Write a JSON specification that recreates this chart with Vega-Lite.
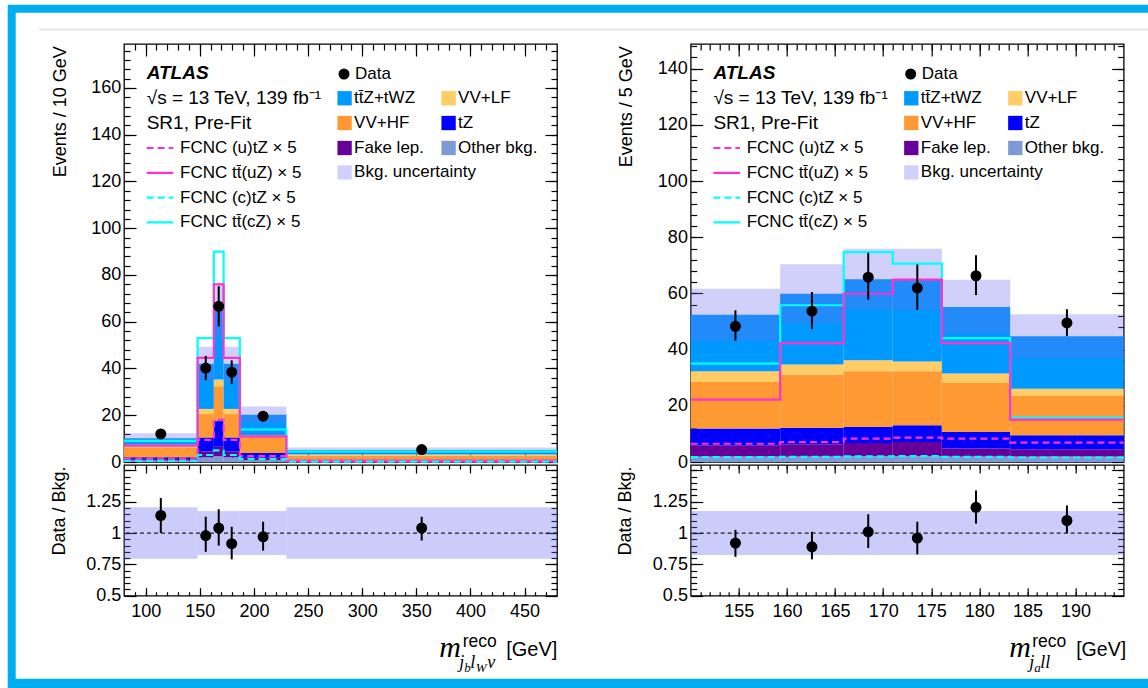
{
 "$schema": "https://vega.github.io/schema/vega-lite/v6.json",
 "background": "#ffffff",
 "padding": {"left": 7, "top": 4, "right": 0, "bottom": 0},
 "bounds": "flush",
 "spacing": 0,
 "datasets": {
  "bkgL": [
   {"lo":80,"hi":148,"p":"Other bkg.","v":0.6},{"lo":80,"hi":148,"p":"Fake lep.","v":0.6},{"lo":80,"hi":148,"p":"tZ","v":0.8},{"lo":80,"hi":148,"p":"VV+HF","v":4.3},{"lo":80,"hi":148,"p":"VV+LF","v":1.1},{"lo":80,"hi":148,"p":"tt\u0304Z+tWZ","v":2.8},
   {"lo":148,"hi":163,"p":"Other bkg.","v":2.0},{"lo":148,"hi":163,"p":"Fake lep.","v":2.5},{"lo":148,"hi":163,"p":"tZ","v":6.0},{"lo":148,"hi":163,"p":"VV+HF","v":10.0},{"lo":148,"hi":163,"p":"VV+LF","v":2.2},{"lo":148,"hi":163,"p":"tt\u0304Z+tWZ","v":19.3},
   {"lo":163,"hi":172,"p":"Other bkg.","v":2.5},{"lo":163,"hi":172,"p":"Fake lep.","v":4.0},{"lo":163,"hi":172,"p":"tZ","v":11.0},{"lo":163,"hi":172,"p":"VV+HF","v":14.9},{"lo":163,"hi":172,"p":"VV+LF","v":2.9},{"lo":163,"hi":172,"p":"tt\u0304Z+tWZ","v":29.2},
   {"lo":172,"hi":187,"p":"Other bkg.","v":2.0},{"lo":172,"hi":187,"p":"Fake lep.","v":2.5},{"lo":172,"hi":187,"p":"tZ","v":6.0},{"lo":172,"hi":187,"p":"VV+HF","v":10.0},{"lo":172,"hi":187,"p":"VV+LF","v":2.2},{"lo":172,"hi":187,"p":"tt\u0304Z+tWZ","v":19.3},
   {"lo":187,"hi":230,"p":"Other bkg.","v":0.8},{"lo":187,"hi":230,"p":"Fake lep.","v":1.0},{"lo":187,"hi":230,"p":"tZ","v":2.1},{"lo":187,"hi":230,"p":"VV+HF","v":6.9},{"lo":187,"hi":230,"p":"VV+LF","v":0.8},{"lo":187,"hi":230,"p":"tt\u0304Z+tWZ","v":8.6},
   {"lo":230,"hi":480,"p":"Other bkg.","v":0.3},{"lo":230,"hi":480,"p":"Fake lep.","v":0.2},{"lo":230,"hi":480,"p":"tZ","v":0.5},{"lo":230,"hi":480,"p":"VV+HF","v":1.8},{"lo":230,"hi":480,"p":"VV+LF","v":0.4},{"lo":230,"hi":480,"p":"tt\u0304Z+tWZ","v":1.9}
  ],
  "bkgR": [
   {"lo":150,"hi":159.3,"p":"Other bkg.","v":2.0},{"lo":150,"hi":159.3,"p":"Fake lep.","v":4.0},{"lo":150,"hi":159.3,"p":"tZ","v":5.9},{"lo":150,"hi":159.3,"p":"VV+HF","v":16.6},{"lo":150,"hi":159.3,"p":"VV+LF","v":3.8},{"lo":150,"hi":159.3,"p":"tt\u0304Z+tWZ","v":20.1},
   {"lo":159.3,"hi":165.9,"p":"Other bkg.","v":2.0},{"lo":159.3,"hi":165.9,"p":"Fake lep.","v":4.3},{"lo":159.3,"hi":165.9,"p":"tZ","v":5.9},{"lo":159.3,"hi":165.9,"p":"VV+HF","v":18.9},{"lo":159.3,"hi":165.9,"p":"VV+LF","v":3.6},{"lo":159.3,"hi":165.9,"p":"tt\u0304Z+tWZ","v":25.2},
   {"lo":165.9,"hi":171,"p":"Other bkg.","v":2.1},{"lo":165.9,"hi":171,"p":"Fake lep.","v":4.7},{"lo":165.9,"hi":171,"p":"tZ","v":5.7},{"lo":165.9,"hi":171,"p":"VV+HF","v":19.8},{"lo":165.9,"hi":171,"p":"VV+LF","v":3.9},{"lo":165.9,"hi":171,"p":"tt\u0304Z+tWZ","v":28.9},
   {"lo":171,"hi":176.1,"p":"Other bkg.","v":2.1},{"lo":171,"hi":176.1,"p":"Fake lep.","v":5.0},{"lo":171,"hi":176.1,"p":"tZ","v":6.0},{"lo":171,"hi":176.1,"p":"VV+HF","v":19.2},{"lo":171,"hi":176.1,"p":"VV+LF","v":3.5},{"lo":171,"hi":176.1,"p":"tt\u0304Z+tWZ","v":29.1},
   {"lo":176.1,"hi":183.2,"p":"Other bkg.","v":2.0},{"lo":176.1,"hi":183.2,"p":"Fake lep.","v":2.8},{"lo":176.1,"hi":183.2,"p":"tZ","v":5.9},{"lo":176.1,"hi":183.2,"p":"VV+HF","v":17.4},{"lo":176.1,"hi":183.2,"p":"VV+LF","v":3.4},{"lo":176.1,"hi":183.2,"p":"tt\u0304Z+tWZ","v":23.7},
   {"lo":183.2,"hi":195,"p":"Other bkg.","v":2.0},{"lo":183.2,"hi":195,"p":"Fake lep.","v":2.5},{"lo":183.2,"hi":195,"p":"tZ","v":5.0},{"lo":183.2,"hi":195,"p":"VV+HF","v":14.0},{"lo":183.2,"hi":195,"p":"VV+LF","v":2.6},{"lo":183.2,"hi":195,"p":"tt\u0304Z+tWZ","v":18.7}
  ],
  "uncL": [
   {"lo":80,"hi":148,"dn":8.1,"up":12.3},{"lo":148,"hi":163,"dn":34.7,"up":49.3},{"lo":163,"hi":172,"dn":53.5,"up":75.5},{"lo":172,"hi":187,"dn":34.7,"up":49.3},{"lo":187,"hi":230,"dn":16.7,"up":23.7},{"lo":230,"hi":480,"dn":4.05,"up":6.15}
  ],
  "uncR": [
   {"lo":150,"hi":159.3,"dn":43.1,"up":61.7},{"lo":159.3,"hi":165.9,"dn":49.4,"up":70.4},{"lo":165.9,"hi":171,"dn":54.3,"up":75.9},{"lo":171,"hi":176.1,"dn":53.9,"up":75.9},{"lo":176.1,"hi":183.2,"dn":45.5,"up":64.9},{"lo":183.2,"hi":195,"dn":37.0,"up":52.6}
  ],
  "datL": [
   {"x":114,"y":12.0,"elo":10.7,"ehi":13.3},{"x":155.5,"y":40.2,"elo":35.0,"ehi":45.4},{"x":167.5,"y":66.6,"elo":58.0,"ehi":75.2},{"x":179.5,"y":38.4,"elo":33.3,"ehi":43.5},{"x":208.5,"y":19.6,"elo":17.5,"ehi":21.7},{"x":355,"y":5.3,"elo":4.85,"ehi":5.75}
  ],
  "datR": [
   {"x":154.65,"y":48.3,"elo":43.2,"ehi":54.0},{"x":162.6,"y":53.7,"elo":47.3,"ehi":60.5},{"x":168.45,"y":65.8,"elo":57.8,"ehi":74.5},{"x":173.55,"y":61.9,"elo":54.1,"ehi":70.3},{"x":179.65,"y":66.3,"elo":59.4,"ehi":73.6},{"x":189.1,"y":49.5,"elo":44.8,"ehi":54.4}
  ],
  "sigL": [
   {"s":"FCNC tt\u0304(cZ) \u00d7 5","x":80,"v":9.0},{"s":"FCNC tt\u0304(cZ) \u00d7 5","x":148,"v":53},{"s":"FCNC tt\u0304(cZ) \u00d7 5","x":163,"v":90},{"s":"FCNC tt\u0304(cZ) \u00d7 5","x":172,"v":53},{"s":"FCNC tt\u0304(cZ) \u00d7 5","x":187,"v":13.9},{"s":"FCNC tt\u0304(cZ) \u00d7 5","x":230,"v":4.5},{"s":"FCNC tt\u0304(cZ) \u00d7 5","x":480,"v":4.5},
   {"s":"FCNC tt\u0304(uZ) \u00d7 5","x":80,"v":7.0},{"s":"FCNC tt\u0304(uZ) \u00d7 5","x":148,"v":44.5},{"s":"FCNC tt\u0304(uZ) \u00d7 5","x":163,"v":76},{"s":"FCNC tt\u0304(uZ) \u00d7 5","x":172,"v":44.5},{"s":"FCNC tt\u0304(uZ) \u00d7 5","x":187,"v":11.0},{"s":"FCNC tt\u0304(uZ) \u00d7 5","x":230,"v":0.6},{"s":"FCNC tt\u0304(uZ) \u00d7 5","x":480,"v":0.6},
   {"s":"FCNC (u)tZ \u00d7 5","x":80,"v":1.5},{"s":"FCNC (u)tZ \u00d7 5","x":148,"v":9.5},{"s":"FCNC (u)tZ \u00d7 5","x":163,"v":18},{"s":"FCNC (u)tZ \u00d7 5","x":172,"v":9.5},{"s":"FCNC (u)tZ \u00d7 5","x":187,"v":2.5},{"s":"FCNC (u)tZ \u00d7 5","x":230,"v":0.3},{"s":"FCNC (u)tZ \u00d7 5","x":480,"v":0.3},
   {"s":"FCNC (c)tZ \u00d7 5","x":80,"v":0.5},{"s":"FCNC (c)tZ \u00d7 5","x":148,"v":3},{"s":"FCNC (c)tZ \u00d7 5","x":163,"v":5},{"s":"FCNC (c)tZ \u00d7 5","x":172,"v":3},{"s":"FCNC (c)tZ \u00d7 5","x":187,"v":1.2},{"s":"FCNC (c)tZ \u00d7 5","x":230,"v":0.15},{"s":"FCNC (c)tZ \u00d7 5","x":480,"v":0.15}
  ],
  "sigR": [
   {"s":"FCNC tt\u0304(cZ) \u00d7 5","x":150,"v":35.0},{"s":"FCNC tt\u0304(cZ) \u00d7 5","x":159.3,"v":55.8},{"s":"FCNC tt\u0304(cZ) \u00d7 5","x":165.9,"v":74.7},{"s":"FCNC tt\u0304(cZ) \u00d7 5","x":171,"v":70.6},{"s":"FCNC tt\u0304(cZ) \u00d7 5","x":176.1,"v":44.1},{"s":"FCNC tt\u0304(cZ) \u00d7 5","x":183.2,"v":15.8},{"s":"FCNC tt\u0304(cZ) \u00d7 5","x":195,"v":15.8},
   {"s":"FCNC tt\u0304(uZ) \u00d7 5","x":150,"v":22.2},{"s":"FCNC tt\u0304(uZ) \u00d7 5","x":159.3,"v":42.3},{"s":"FCNC tt\u0304(uZ) \u00d7 5","x":165.9,"v":59.9},{"s":"FCNC tt\u0304(uZ) \u00d7 5","x":171,"v":64.9},{"s":"FCNC tt\u0304(uZ) \u00d7 5","x":176.1,"v":42.3},{"s":"FCNC tt\u0304(uZ) \u00d7 5","x":183.2,"v":15.1},{"s":"FCNC tt\u0304(uZ) \u00d7 5","x":195,"v":15.1},
   {"s":"FCNC (u)tZ \u00d7 5","x":150,"v":6.5},{"s":"FCNC (u)tZ \u00d7 5","x":159.3,"v":7.1},{"s":"FCNC (u)tZ \u00d7 5","x":165.9,"v":8.3},{"s":"FCNC (u)tZ \u00d7 5","x":171,"v":8.7},{"s":"FCNC (u)tZ \u00d7 5","x":176.1,"v":8.3},{"s":"FCNC (u)tZ \u00d7 5","x":183.2,"v":6.9},{"s":"FCNC (u)tZ \u00d7 5","x":195,"v":6.9},
   {"s":"FCNC (c)tZ \u00d7 5","x":150,"v":1.7},{"s":"FCNC (c)tZ \u00d7 5","x":159.3,"v":1.8},{"s":"FCNC (c)tZ \u00d7 5","x":165.9,"v":2.0},{"s":"FCNC (c)tZ \u00d7 5","x":171,"v":2.1},{"s":"FCNC (c)tZ \u00d7 5","x":176.1,"v":1.8},{"s":"FCNC (c)tZ \u00d7 5","x":183.2,"v":1.6},{"s":"FCNC (c)tZ \u00d7 5","x":195,"v":1.6}
  ],
  "ratL": [
   {"x":114,"r":1.14,"elo":1.0,"ehi":1.28},{"x":155.5,"r":0.98,"elo":0.85,"ehi":1.13},{"x":167.5,"r":1.04,"elo":0.90,"ehi":1.19},{"x":179.5,"r":0.915,"elo":0.79,"ehi":1.05},{"x":208.5,"r":0.97,"elo":0.86,"ehi":1.09},{"x":355,"r":1.04,"elo":0.94,"ehi":1.13}
  ],
  "ratR": [
   {"x":154.65,"r":0.92,"elo":0.81,"ehi":1.025},{"x":162.6,"r":0.89,"elo":0.79,"ehi":1.01},{"x":168.45,"r":1.01,"elo":0.88,"ehi":1.15},{"x":173.55,"r":0.96,"elo":0.83,"ehi":1.09},{"x":179.65,"r":1.205,"elo":1.075,"ehi":1.34},{"x":189.1,"r":1.10,"elo":1.0,"ehi":1.22}
  ],
  "bandL": [
   {"lo":80,"hi":148,"dn":0.795,"up":1.205},{"lo":148,"hi":163,"dn":0.825,"up":1.175},{"lo":163,"hi":172,"dn":0.825,"up":1.175},{"lo":172,"hi":187,"dn":0.825,"up":1.175},{"lo":187,"hi":230,"dn":0.825,"up":1.175},{"lo":230,"hi":480,"dn":0.795,"up":1.205}
  ],
  "bandR": [
   {"lo":150,"hi":159.3,"dn":0.825,"up":1.175},{"lo":159.3,"hi":165.9,"dn":0.825,"up":1.175},{"lo":165.9,"hi":171,"dn":0.825,"up":1.175},{"lo":171,"hi":176.1,"dn":0.825,"up":1.175},{"lo":176.1,"hi":183.2,"dn":0.825,"up":1.175},{"lo":183.2,"hi":195,"dn":0.825,"up":1.175}
  ]
 },
 "vconcat": [
  {
   "width": 1, "height": 1,
   "view": {"stroke": null},
   "data": {"name": "ratL"},
   "mark": {"type": "point", "opacity": 0},
   "encoding": {
    "x": {"field": "x", "type": "quantitative", "axis": null},
    "y": {"field": "r", "type": "quantitative", "axis": null},
    "fill": {"field": "r", "type": "quantitative", "scale": {"range": ["#00aeef", "#00aeef"]}, "legend": {"orient": "none", "legendX": -116.3, "legendY": -37.3, "type": "gradient", "direction": "horizontal", "gradientLength": 1141, "gradientThickness": 684, "gradientStrokeWidth": 0, "title": null, "labelExpr": "''", "labelFontSize": 1, "labelOpacity": 0, "labelOffset": -300, "padding": 0, "tickCount": 2}},
    "stroke": {"field": "x", "type": "quantitative", "scale": {"range": ["#ffffff", "#ffffff"]}, "legend": {"orient": "none", "legendX": -108.3, "legendY": -29.3, "type": "gradient", "direction": "horizontal", "gradientLength": 1133, "gradientThickness": 666, "gradientStrokeWidth": 0, "title": null, "labelExpr": "''", "labelFontSize": 1, "labelOpacity": 0, "labelOffset": -300, "padding": 0, "tickCount": 2}}
   }
  },
  {
   "width": 1, "height": 1,
   "view": {"stroke": null},
   "data": {"name": "ratL"},
   "mark": {"type": "point", "opacity": 0},
   "encoding": {
    "x": {"field": "x", "type": "quantitative", "axis": null},
    "y": {"field": "r", "type": "quantitative", "axis": null},
    "color": {"field": "r", "type": "quantitative", "scale": {"range": ["#ebebeb", "#ebebeb"]}, "legend": {"orient": "none", "legendX": -85.3, "legendY": -13.8, "type": "gradient", "direction": "horizontal", "gradientLength": 1110, "gradientThickness": 2.5, "gradientStrokeWidth": 0, "title": null, "labelExpr": "''", "labelFontSize": 1, "labelOpacity": 0, "labelOffset": -2, "padding": 0, "tickCount": 2}}
   }
  },
  {
   "columns": 2,
   "bounds": "flush",
   "spacing": {"row": 3, "column": 133.7},
   "resolve": {
    "scale": {"fill": "independent", "stroke": "independent", "strokeDash": "independent", "shape": "independent", "opacity": "independent"},
    "legend": {"fill": "independent", "stroke": "independent", "strokeDash": "independent", "shape": "independent", "opacity": "independent"}
   },
   "concat": [
    {
     "width": 433, "height": 418,
     "title": {"text": "ATLAS", "subtitle": ["\u221as = 13 TeV, 139 fb\u207b\u00b9", "SR1, Pre-Fit"], "anchor": "start", "frame": "group", "orient": "top", "offset": -89.5, "dx": 22.7, "align": "left", "baseline": "top", "font": "Liberation Sans", "fontSize": 19, "fontStyle": "italic", "fontWeight": "bold", "color": "black", "subtitleFont": "Liberation Sans", "subtitleFontSize": 19, "subtitleColor": "black", "subtitlePadding": 6, "subtitleLineHeight": 24.5},
     "resolve": {"axis": {"x": "independent", "y": "independent"}},
     "layer": [
      {
       "data": {"name": "bkgL"},
       "transform": [
        {"calculate": "datum.p == 'Other bkg.' ? 0 : datum.p == 'Fake lep.' ? 1 : datum.p == 'tZ' ? 2 : datum.p == 'VV+HF' ? 3 : datum.p == 'VV+LF' ? 4 : 5", "as": "k"},
        {"stack": "v", "groupby": ["lo"], "sort": [{"field": "k", "order": "ascending"}], "as": ["v0", "v1"]}
       ],
       "mark": {"type": "rect"},
       "encoding": {
        "x": {"field": "lo", "type": "quantitative", "scale": {"domain": [80, 480], "nice": false, "zero": false}, "axis": {"orient": "bottom", "values": [100,150,200,250,300,350,400,450], "labels": false, "tickSize": -12, "title": null}},
        "x2": {"field": "hi"},
        "y": {"field": "v0", "type": "quantitative", "scale": {"domain": [0, 178.8], "nice": false, "zero": false}, "axis": {"orient": "left", "values": [0,20,40,60,80,100,120,140,160], "tickSize": -12, "labelPadding": 15.3, "format": "d", "title": "Events / 10 GeV", "titleAngle": -90, "titleAlign": "right", "titleBaseline": "alphabetic", "titleX": -58.3, "titleY": 1.7}},
        "y2": {"field": "v1"},
        "fill": {"field": "p", "type": "nominal", "scale": {"domain": ["tt\u0304Z+tWZ", "VV+HF", "Fake lep.", "VV+LF", "tZ", "Other bkg."], "range": ["#0099ff", "#ff9933", "#660099", "#ffcc66", "#0000ff", "#7b9ad6"]}, "legend": {"orient": "none", "legendX": 212.1, "legendY": 45.5, "columns": 2, "title": null, "symbolType": "square", "symbolSize": 205, "symbolStrokeWidth": 0, "labelOffset": 1, "columnPadding": 16, "rowPadding": 7.0}}
       }
      },
      {
       "data": {"name": "uncL"},
       "mark": {"type": "rect", "fill": "#6e6ef0"},
       "encoding": {
        "x": {"field": "lo", "type": "quantitative", "axis": {"orient": "bottom", "values": [90,100,110,120,130,140,150,160,170,180,190,200,210,220,230,240,250,260,270,280,290,300,310,320,330,340,350,360,370,380,390,400,410,420,430,440,450,460,470], "labels": false, "tickSize": -6, "title": null}},
        "x2": {"field": "hi"},
        "y": {"field": "dn", "type": "quantitative", "axis": {"orient": "left", "values": [4,8,12,16,20,24,28,32,36,40,44,48,52,56,60,64,68,72,76,80,84,88,92,96,100,104,108,112,116,120,124,128,132,136,140,144,148,152,156,160,164,168,172,176], "labels": false, "tickSize": -6, "title": null}},
        "y2": {"field": "up"},
        "opacity": {"datum": "Bkg. uncertainty", "type": "nominal", "scale": {"range": [0.32, 0.32]}, "legend": {"orient": "none", "legendX": 212.1, "legendY": 119.9, "title": null, "symbolType": "square", "symbolSize": 205, "symbolStrokeWidth": 0, "symbolFillColor": "#6e6ef0", "labelOffset": 1}}
       }
      },
      {
       "data": {"name": "sigL"},
       "mark": {"type": "line", "interpolate": "step-after", "strokeWidth": 2.2},
       "encoding": {
        "x": {"field": "x", "type": "quantitative", "axis": {"orient": "top", "values": [100,150,200,250,300,350,400,450], "labels": false, "tickSize": -12, "title": null}},
        "y": {"field": "v", "type": "quantitative", "axis": {"orient": "right", "values": [0,20,40,60,80,100,120,140,160], "labels": false, "tickSize": -12, "title": null}},
        "stroke": {"field": "s", "type": "nominal", "scale": {"domain": ["FCNC (u)tZ \u00d7 5", "FCNC tt\u0304(uZ) \u00d7 5", "FCNC (c)tZ \u00d7 5", "FCNC tt\u0304(cZ) \u00d7 5"], "range": ["#ff33cc", "#ff33cc", "#00ffff", "#00ffff"]}, "legend": {"orient": "none", "legendX": 21.5, "legendY": 89.5, "title": null, "symbolType": "stroke", "symbolSize": 713, "symbolStrokeWidth": 2.2, "labelOffset": 5.5, "rowPadding": 1.8}},
        "strokeDash": {"field": "s", "type": "nominal", "scale": {"domain": ["FCNC (u)tZ \u00d7 5", "FCNC tt\u0304(uZ) \u00d7 5", "FCNC (c)tZ \u00d7 5", "FCNC tt\u0304(cZ) \u00d7 5"], "range": [[7, 4], [1, 0], [7, 4], [1, 0]]}, "legend": {"orient": "none", "legendX": 21.5, "legendY": 89.5, "title": null, "symbolType": "stroke", "symbolSize": 713, "symbolStrokeWidth": 2.2, "labelOffset": 5.5, "rowPadding": 1.8}}
       }
      },
      {
       "data": {"name": "datL"},
       "mark": {"type": "rule", "color": "black", "strokeWidth": 2},
       "encoding": {
        "x": {"field": "x", "type": "quantitative", "axis": {"orient": "top", "values": [90,100,110,120,130,140,150,160,170,180,190,200,210,220,230,240,250,260,270,280,290,300,310,320,330,340,350,360,370,380,390,400,410,420,430,440,450,460,470], "labels": false, "tickSize": -6, "title": null}},
        "y": {"field": "elo", "type": "quantitative", "axis": {"orient": "right", "values": [4,8,12,16,20,24,28,32,36,40,44,48,52,56,60,64,68,72,76,80,84,88,92,96,100,104,108,112,116,120,124,128,132,136,140,144,148,152,156,160,164,168,172,176], "labels": false, "tickSize": -6, "title": null}},
        "y2": {"field": "ehi"}
       }
      },
      {
       "data": {"name": "datL"},
       "mark": {"type": "point", "filled": true, "color": "black", "size": 121, "opacity": 1},
       "encoding": {
        "x": {"field": "x", "type": "quantitative", "axis": null},
        "y": {"field": "y", "type": "quantitative", "axis": null},
        "shape": {"datum": "Data", "type": "nominal", "scale": {"range": ["circle"]}, "legend": {"orient": "none", "legendX": 211.5, "legendY": 21.5, "title": null, "symbolSize": 121, "symbolFillColor": "black", "symbolStrokeWidth": 0, "labelOffset": 2.5}}
       }
      }
     ]
    },
    {
     "width": 433, "height": 418,
     "title": {"text": "ATLAS", "subtitle": ["\u221as = 13 TeV, 139 fb\u207b\u00b9", "SR1, Pre-Fit"], "anchor": "start", "frame": "group", "orient": "top", "offset": -89.5, "dx": 22.7, "align": "left", "baseline": "top", "font": "Liberation Sans", "fontSize": 19, "fontStyle": "italic", "fontWeight": "bold", "color": "black", "subtitleFont": "Liberation Sans", "subtitleFontSize": 19, "subtitleColor": "black", "subtitlePadding": 6, "subtitleLineHeight": 24.5},
     "resolve": {"axis": {"x": "independent", "y": "independent"}},
     "layer": [
      {
       "data": {"name": "bkgR"},
       "transform": [
        {"calculate": "datum.p == 'Other bkg.' ? 0 : datum.p == 'Fake lep.' ? 1 : datum.p == 'tZ' ? 2 : datum.p == 'VV+HF' ? 3 : datum.p == 'VV+LF' ? 4 : 5", "as": "k"},
        {"stack": "v", "groupby": ["lo"], "sort": [{"field": "k", "order": "ascending"}], "as": ["v0", "v1"]}
       ],
       "mark": {"type": "rect"},
       "encoding": {
        "x": {"field": "lo", "type": "quantitative", "scale": {"domain": [150, 195], "nice": false, "zero": false}, "axis": {"orient": "bottom", "values": [155,160,165,170,175,180,185,190], "labels": false, "tickSize": -12, "title": null}},
        "x2": {"field": "hi"},
        "y": {"field": "v0", "type": "quantitative", "scale": {"domain": [0, 148.8], "nice": false, "zero": false}, "axis": {"orient": "left", "values": [0,20,40,60,80,100,120,140], "tickSize": -12, "labelPadding": 15.3, "format": "d", "title": "Events / 5 GeV", "titleAngle": -90, "titleAlign": "right", "titleBaseline": "alphabetic", "titleX": -59.3, "titleY": 1.7}},
        "y2": {"field": "v1"},
        "fill": {"field": "p", "type": "nominal", "scale": {"domain": ["tt\u0304Z+tWZ", "VV+HF", "Fake lep.", "VV+LF", "tZ", "Other bkg."], "range": ["#0099ff", "#ff9933", "#660099", "#ffcc66", "#0000ff", "#7b9ad6"]}, "legend": {"orient": "none", "legendX": 212.1, "legendY": 45.5, "columns": 2, "title": null, "symbolType": "square", "symbolSize": 205, "symbolStrokeWidth": 0, "labelOffset": 1, "columnPadding": 16, "rowPadding": 7.0}}
       }
      },
      {
       "data": {"name": "uncR"},
       "mark": {"type": "rect", "fill": "#6e6ef0"},
       "encoding": {
        "x": {"field": "lo", "type": "quantitative", "axis": {"orient": "bottom", "values": [151,152,153,154,155,156,157,158,159,160,161,162,163,164,165,166,167,168,169,170,171,172,173,174,175,176,177,178,179,180,181,182,183,184,185,186,187,188,189,190,191,192,193,194], "labels": false, "tickSize": -6, "title": null}},
        "x2": {"field": "hi"},
        "y": {"field": "dn", "type": "quantitative", "axis": {"orient": "left", "values": [4,8,12,16,20,24,28,32,36,40,44,48,52,56,60,64,68,72,76,80,84,88,92,96,100,104,108,112,116,120,124,128,132,136,140,144,148], "labels": false, "tickSize": -6, "title": null}},
        "y2": {"field": "up"},
        "opacity": {"datum": "Bkg. uncertainty", "type": "nominal", "scale": {"range": [0.32, 0.32]}, "legend": {"orient": "none", "legendX": 212.1, "legendY": 119.9, "title": null, "symbolType": "square", "symbolSize": 205, "symbolStrokeWidth": 0, "symbolFillColor": "#6e6ef0", "labelOffset": 1}}
       }
      },
      {
       "data": {"name": "sigR"},
       "mark": {"type": "line", "interpolate": "step-after", "strokeWidth": 2.2},
       "encoding": {
        "x": {"field": "x", "type": "quantitative", "axis": {"orient": "top", "values": [155,160,165,170,175,180,185,190], "labels": false, "tickSize": -12, "title": null}},
        "y": {"field": "v", "type": "quantitative", "axis": {"orient": "right", "values": [0,20,40,60,80,100,120,140], "labels": false, "tickSize": -12, "title": null}},
        "stroke": {"field": "s", "type": "nominal", "scale": {"domain": ["FCNC (u)tZ \u00d7 5", "FCNC tt\u0304(uZ) \u00d7 5", "FCNC (c)tZ \u00d7 5", "FCNC tt\u0304(cZ) \u00d7 5"], "range": ["#ff33cc", "#ff33cc", "#00ffff", "#00ffff"]}, "legend": {"orient": "none", "legendX": 21.5, "legendY": 89.5, "title": null, "symbolType": "stroke", "symbolSize": 713, "symbolStrokeWidth": 2.2, "labelOffset": 5.5, "rowPadding": 1.8}},
        "strokeDash": {"field": "s", "type": "nominal", "scale": {"domain": ["FCNC (u)tZ \u00d7 5", "FCNC tt\u0304(uZ) \u00d7 5", "FCNC (c)tZ \u00d7 5", "FCNC tt\u0304(cZ) \u00d7 5"], "range": [[7, 4], [1, 0], [7, 4], [1, 0]]}, "legend": {"orient": "none", "legendX": 21.5, "legendY": 89.5, "title": null, "symbolType": "stroke", "symbolSize": 713, "symbolStrokeWidth": 2.2, "labelOffset": 5.5, "rowPadding": 1.8}}
       }
      },
      {
       "data": {"name": "datR"},
       "mark": {"type": "rule", "color": "black", "strokeWidth": 2},
       "encoding": {
        "x": {"field": "x", "type": "quantitative", "axis": {"orient": "top", "values": [151,152,153,154,155,156,157,158,159,160,161,162,163,164,165,166,167,168,169,170,171,172,173,174,175,176,177,178,179,180,181,182,183,184,185,186,187,188,189,190,191,192,193,194], "labels": false, "tickSize": -6, "title": null}},
        "y": {"field": "elo", "type": "quantitative", "axis": {"orient": "right", "values": [4,8,12,16,20,24,28,32,36,40,44,48,52,56,60,64,68,72,76,80,84,88,92,96,100,104,108,112,116,120,124,128,132,136,140,144,148], "labels": false, "tickSize": -6, "title": null}},
        "y2": {"field": "ehi"}
       }
      },
      {
       "data": {"name": "datR"},
       "mark": {"type": "point", "filled": true, "color": "black", "size": 121, "opacity": 1},
       "encoding": {
        "x": {"field": "x", "type": "quantitative", "axis": null},
        "y": {"field": "y", "type": "quantitative", "axis": null},
        "shape": {"datum": "Data", "type": "nominal", "scale": {"range": ["circle"]}, "legend": {"orient": "none", "legendX": 211.5, "legendY": 21.5, "title": null, "symbolSize": 121, "symbolFillColor": "black", "symbolStrokeWidth": 0, "labelOffset": 2.5}}
       }
      }
     ]
    },
    {
     "width": 433, "height": 130.7,
     "resolve": {"axis": {"x": "independent", "y": "independent"}},
     "layer": [
      {
       "data": {"name": "bandL"},
       "mark": {"type": "rect", "fill": "#6e6ef0", "opacity": 0.35},
       "encoding": {
        "x": {"field": "lo", "type": "quantitative", "scale": {"domain": [80, 480], "nice": false, "zero": false}, "axis": {"orient": "bottom", "values": [100,150,200,250,300,350,400,450], "tickSize": -8, "labelPadding": 14.7, "format": "d", "title": "[GeV]", "titleX": 381.7, "titleY": 60, "titleAlign": "left", "titleBaseline": "alphabetic", "titleFontSize": 20}},
        "x2": {"field": "hi"},
        "y": {"field": "dn", "type": "quantitative", "scale": {"domain": [0.5, 1.543], "nice": false, "zero": false}, "axis": {"orient": "left", "values": [0.5,0.75,1,1.25,1.5], "tickSize": -12, "labelPadding": 15.3, "labelExpr": "datum.value >= 1.5 ? '' : format(datum.value, '~g')", "title": "Data / Bkg.", "titleAngle": -90, "titleAlign": "right", "titleBaseline": "alphabetic", "titleX": -59.8, "titleY": 1}},
        "y2": {"field": "up"}
       }
      },
      {
       "data": {"values": [{}]},
       "mark": {"type": "rule", "color": "#222222", "strokeWidth": 1.3, "strokeDash": [4, 3]},
       "encoding": {"y": {"datum": 1, "type": "quantitative", "axis": null}}
      },
      {
       "data": {"name": "ratL"},
       "mark": {"type": "rule", "color": "black", "strokeWidth": 2},
       "encoding": {
        "x": {"field": "x", "type": "quantitative", "axis": {"orient": "bottom", "values": [90,100,110,120,130,140,150,160,170,180,190,200,210,220,230,240,250,260,270,280,290,300,310,320,330,340,350,360,370,380,390,400,410,420,430,440,450,460,470], "labels": false, "tickSize": -4, "title": "m", "titleX": 314.7, "titleY": 61, "titleAlign": "left", "titleBaseline": "alphabetic", "titleFont": "Liberation Serif", "titleFontSize": 30, "titleFontStyle": "italic"}},
        "y": {"field": "elo", "type": "quantitative", "axis": {"orient": "right", "values": [0.5,0.75,1,1.25,1.5], "labels": false, "tickSize": -12, "title": null}},
        "y2": {"field": "ehi"}
       }
      },
      {
       "data": {"name": "ratL"},
       "mark": {"type": "point", "filled": true, "color": "black", "size": 121, "opacity": 1},
       "encoding": {
        "x": {"field": "x", "type": "quantitative", "axis": {"orient": "top", "values": [100,150,200,250,300,350,400,450], "labels": false, "tickSize": -8, "title": null}},
        "y": {"field": "r", "type": "quantitative", "axis": {"orient": "right", "values": [0.55,0.6,0.65,0.7,0.75,0.8,0.85,0.9,0.95,1,1.05,1.1,1.15,1.2,1.25,1.3,1.35,1.4,1.45,1.5], "labels": false, "tickSize": -6, "title": null}}
       }
      },
      {
       "data": {"name": "ratL"},
       "mark": {"type": "point", "opacity": 0},
       "encoding": {
        "x": {"field": "x", "type": "quantitative", "axis": {"orient": "top", "values": [90,100,110,120,130,140,150,160,170,180,190,200,210,220,230,240,250,260,270,280,290,300,310,320,330,340,350,360,370,380,390,400,410,420,430,440,450,460,470], "labels": false, "tickSize": -4, "title": null}},
        "y": {"field": "r", "type": "quantitative", "axis": {"orient": "left", "values": [0.55,0.6,0.65,0.7,0.75,0.8,0.85,0.9,0.95,1,1.05,1.1,1.15,1.2,1.25,1.3,1.35,1.4,1.45,1.5], "labels": false, "tickSize": -6, "title": null}}
       }
      },
      {
       "data": {"name": "ratL"},
       "mark": {"type": "point", "opacity": 0},
       "encoding": {
        "x": {"field": "x", "type": "quantitative", "axis": {"orient": "bottom", "ticks": false, "labels": false, "title": "reco", "titleX": 338.2, "titleY": 50.5, "titleAlign": "left", "titleBaseline": "alphabetic", "titleFontSize": 17.5}},
        "y": {"field": "r", "type": "quantitative", "axis": {"orient": "left", "ticks": false, "labels": false, "title": "j", "titleAngle": 0, "titleX": 334.7, "titleY": 202.7, "titleAlign": "left", "titleBaseline": "alphabetic", "titleFont": "Liberation Serif", "titleFontStyle": "italic", "titleFontSize": 18}}
       }
      },
      {
       "data": {"name": "ratL"},
       "mark": {"type": "point", "opacity": 0},
       "encoding": {
        "x": {"field": "x", "type": "quantitative", "axis": {"orient": "bottom", "ticks": false, "labels": false, "title": "b", "titleX": 339.7, "titleY": 76, "titleAlign": "left", "titleBaseline": "alphabetic", "titleFont": "Liberation Serif", "titleFontStyle": "italic", "titleFontSize": 13}},
        "y": {"field": "r", "type": "quantitative", "axis": {"orient": "left", "ticks": false, "labels": false, "title": "l", "titleAngle": 0, "titleX": 345.7, "titleY": 202.7, "titleAlign": "left", "titleBaseline": "alphabetic", "titleFont": "Liberation Serif", "titleFontStyle": "italic", "titleFontSize": 18}}
       }
      },
      {
       "data": {"name": "ratL"},
       "mark": {"type": "point", "opacity": 0},
       "encoding": {
        "x": {"field": "x", "type": "quantitative", "axis": {"orient": "bottom", "ticks": false, "labels": false, "title": "W", "titleX": 351.2, "titleY": 76, "titleAlign": "left", "titleBaseline": "alphabetic", "titleFont": "Liberation Serif", "titleFontStyle": "italic", "titleFontSize": 13}},
        "y": {"field": "r", "type": "quantitative", "axis": {"orient": "left", "ticks": false, "labels": false, "title": "\u03bd", "titleAngle": 0, "titleX": 362.7, "titleY": 202.7, "titleAlign": "left", "titleBaseline": "alphabetic", "titleFont": "Liberation Serif", "titleFontStyle": "italic", "titleFontSize": 18}}
       }
      }
     ]
    },
    {
     "width": 433, "height": 130.7,
     "resolve": {"axis": {"x": "independent", "y": "independent"}},
     "layer": [
      {
       "data": {"name": "bandR"},
       "mark": {"type": "rect", "fill": "#6e6ef0", "opacity": 0.35},
       "encoding": {
        "x": {"field": "lo", "type": "quantitative", "scale": {"domain": [150, 195], "nice": false, "zero": false}, "axis": {"orient": "bottom", "values": [155,160,165,170,175,180,185,190], "tickSize": -8, "labelPadding": 14.7, "format": "d", "title": "[GeV]", "titleX": 385, "titleY": 60, "titleAlign": "left", "titleBaseline": "alphabetic", "titleFontSize": 19.5}},
        "x2": {"field": "hi"},
        "y": {"field": "dn", "type": "quantitative", "scale": {"domain": [0.5, 1.543], "nice": false, "zero": false}, "axis": {"orient": "left", "values": [0.5,0.75,1,1.25,1.5], "tickSize": -12, "labelPadding": 15.3, "labelExpr": "datum.value >= 1.5 ? '' : format(datum.value, '~g')", "title": "Data / Bkg.", "titleAngle": -90, "titleAlign": "right", "titleBaseline": "alphabetic", "titleX": -59.8, "titleY": 1}},
        "y2": {"field": "up"}
       }
      },
      {
       "data": {"values": [{}]},
       "mark": {"type": "rule", "color": "#222222", "strokeWidth": 1.3, "strokeDash": [4, 3]},
       "encoding": {"y": {"datum": 1, "type": "quantitative", "axis": null}}
      },
      {
       "data": {"name": "ratR"},
       "mark": {"type": "rule", "color": "black", "strokeWidth": 2},
       "encoding": {
        "x": {"field": "x", "type": "quantitative", "axis": {"orient": "bottom", "values": [151,152,153,154,155,156,157,158,159,160,161,162,163,164,165,166,167,168,169,170,171,172,173,174,175,176,177,178,179,180,181,182,183,184,185,186,187,188,189,190,191,192,193,194], "labels": false, "tickSize": -4, "title": "m", "titleX": 318, "titleY": 61, "titleAlign": "left", "titleBaseline": "alphabetic", "titleFont": "Liberation Serif", "titleFontSize": 30, "titleFontStyle": "italic"}},
        "y": {"field": "elo", "type": "quantitative", "axis": {"orient": "right", "values": [0.5,0.75,1,1.25,1.5], "labels": false, "tickSize": -12, "title": null}},
        "y2": {"field": "ehi"}
       }
      },
      {
       "data": {"name": "ratR"},
       "mark": {"type": "point", "filled": true, "color": "black", "size": 121, "opacity": 1},
       "encoding": {
        "x": {"field": "x", "type": "quantitative", "axis": {"orient": "top", "values": [155,160,165,170,175,180,185,190], "labels": false, "tickSize": -8, "title": null}},
        "y": {"field": "r", "type": "quantitative", "axis": {"orient": "right", "values": [0.55,0.6,0.65,0.7,0.75,0.8,0.85,0.9,0.95,1,1.05,1.1,1.15,1.2,1.25,1.3,1.35,1.4,1.45,1.5], "labels": false, "tickSize": -6, "title": null}}
       }
      },
      {
       "data": {"name": "ratR"},
       "mark": {"type": "point", "opacity": 0},
       "encoding": {
        "x": {"field": "x", "type": "quantitative", "axis": {"orient": "top", "values": [151,152,153,154,155,156,157,158,159,160,161,162,163,164,165,166,167,168,169,170,171,172,173,174,175,176,177,178,179,180,181,182,183,184,185,186,187,188,189,190,191,192,193,194], "labels": false, "tickSize": -4, "title": null}},
        "y": {"field": "r", "type": "quantitative", "axis": {"orient": "left", "values": [0.55,0.6,0.65,0.7,0.75,0.8,0.85,0.9,0.95,1,1.05,1.1,1.15,1.2,1.25,1.3,1.35,1.4,1.45,1.5], "labels": false, "tickSize": -6, "title": null}}
       }
      },
      {
       "data": {"name": "ratR"},
       "mark": {"type": "point", "opacity": 0},
       "encoding": {
        "x": {"field": "x", "type": "quantitative", "axis": {"orient": "bottom", "ticks": false, "labels": false, "title": "reco", "titleX": 341, "titleY": 50.5, "titleAlign": "left", "titleBaseline": "alphabetic", "titleFontSize": 17.5}},
        "y": {"field": "r", "type": "quantitative", "axis": {"orient": "left", "ticks": false, "labels": false, "title": "j", "titleAngle": 0, "titleX": 338, "titleY": 202.7, "titleAlign": "left", "titleBaseline": "alphabetic", "titleFont": "Liberation Serif", "titleFontStyle": "italic", "titleFontSize": 18}}
       }
      },
      {
       "data": {"name": "ratR"},
       "mark": {"type": "point", "opacity": 0},
       "encoding": {
        "x": {"field": "x", "type": "quantitative", "axis": {"orient": "bottom", "ticks": false, "labels": false, "title": "a", "titleX": 343, "titleY": 76, "titleAlign": "left", "titleBaseline": "alphabetic", "titleFont": "Liberation Serif", "titleFontStyle": "italic", "titleFontSize": 13}},
        "y": {"field": "r", "type": "quantitative", "axis": {"orient": "left", "ticks": false, "labels": false, "title": "ll", "titleAngle": 0, "titleX": 349, "titleY": 202.7, "titleAlign": "left", "titleBaseline": "alphabetic", "titleFont": "Liberation Serif", "titleFontStyle": "italic", "titleFontSize": 18}}
       }
      }
     ]
    }
   ]
  }
 ],
 "resolve": {"scale": {"fill": "independent", "stroke": "independent"}, "legend": {"fill": "independent", "stroke": "independent"}},
 "config": {
  "font": "Liberation Sans",
  "view": {"stroke": "black", "strokeWidth": 1.3},
  "axis": {"domain": false, "grid": false, "tickColor": "black", "tickWidth": 1.2, "labelFont": "Liberation Sans", "labelFontSize": 18, "labelColor": "black", "labelFlush": false, "labelOverlap": false, "titleFont": "Liberation Sans", "titleFontSize": 18, "titleFontWeight": "normal", "titleColor": "black"},
  "legend": {"labelFont": "Liberation Sans", "labelFontSize": 17, "labelColor": "black", "padding": 0, "labelLimit": 300}
 }
}
